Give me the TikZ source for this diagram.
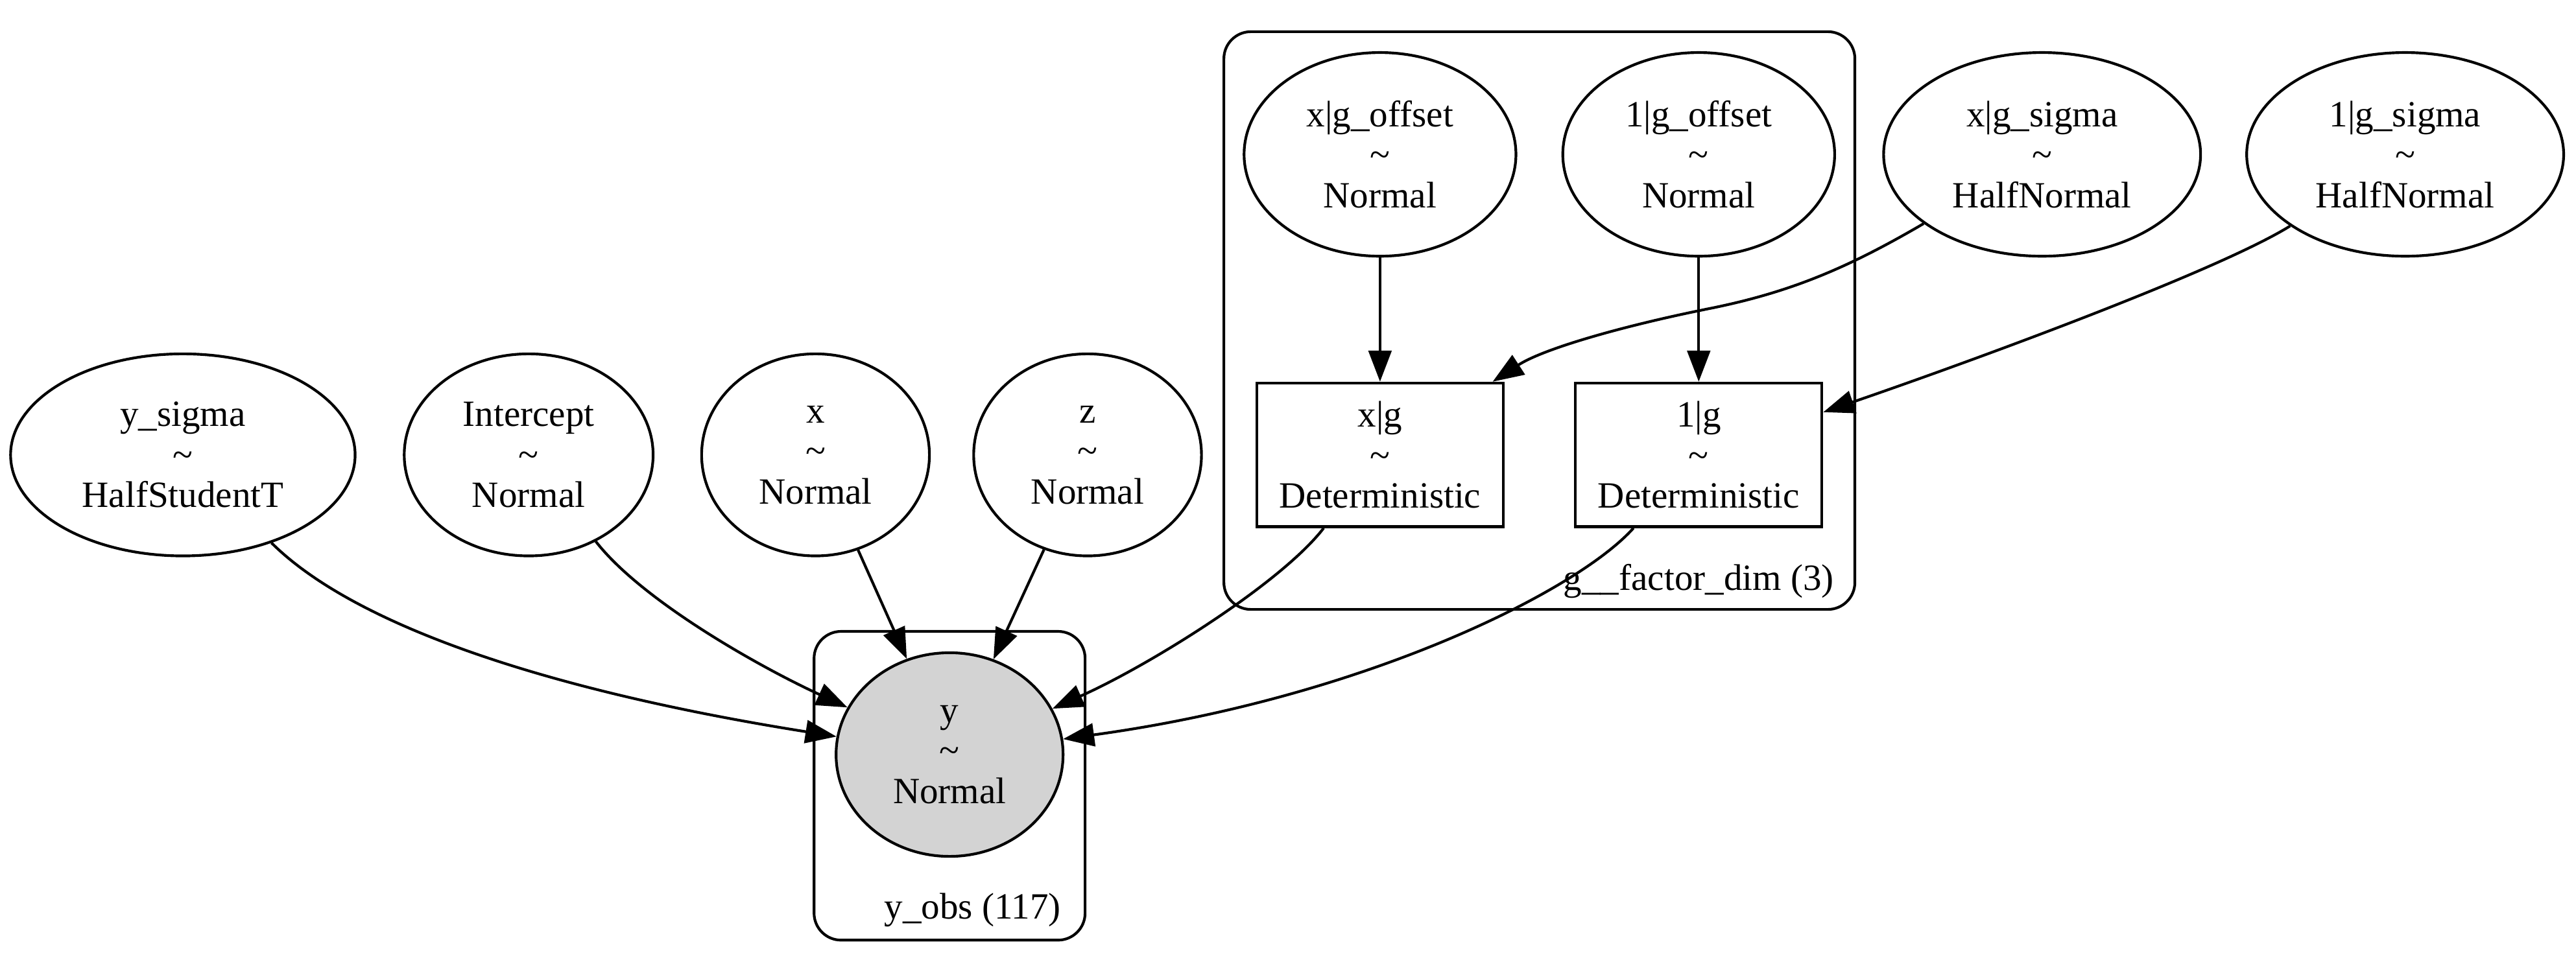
\documentclass[tikz,border=0pt]{standalone}
\usepackage{fontspec}
\setmainfont{Liberation Serif}
\usetikzlibrary{shapes.geometric,arrows.meta}
\begin{document}
\begin{tikzpicture}[x=0.60796pt, y=-0.60796pt,
  every node/.style={font=\fontsize{13.7}{15}\selectfont},
  rv/.style={draw, ellipse, line width=1pt, inner sep=0pt, align=center, minimum height=74.8pt},
  det/.style={draw, rectangle, line width=1pt, inner sep=0pt, align=center, minimum width=91.2pt, minimum height=53.2pt},
  plate/.style={draw, rounded corners=10pt, line width=1pt, inner sep=0pt},
  platelabel/.style={anchor=base, inner sep=0pt},
  edge/.style={line width=1pt, -{Triangle[length=11.5pt,width=8.5pt]}},
]
\useasboundingbox (0,0) rectangle (1568,592.2);

% plates
\node[plate, minimum width=100.3pt, minimum height=114.3pt] (yobs) at (578,478.5) {};
\node[platelabel] (yobslbl) at (592,559.4) {y\_obs (117)};
\node[plate, minimum width=233.5pt, minimum height=213.9pt] (gdim) at (937,195.2) {};
\node[platelabel] (gdimlbl) at (1034,359.5) {g\_\_factor\_dim (3)};

% random variables
\node[rv, minimum width=127.5pt] (ysig) at (111.3,277) {y\_sigma\\\textasciitilde\\HalfStudentT};
\node[rv, minimum width=92.1pt] (icpt) at (321.8,277) {Intercept\\\textasciitilde\\Normal};
\node[rv, minimum width=84.3pt] (xv) at (496.4,277) {x\\\textasciitilde\\Normal};
\node[rv, minimum width=84.3pt] (zv) at (662,277) {z\\\textasciitilde\\Normal};
\node[rv, minimum width=84pt, minimum height=75.4pt, fill={rgb,255:red,211;green,211;blue,211}] (yv) at (578,459.5) {y\\\textasciitilde\\Normal};

\node[rv, minimum width=100.6pt, minimum height=75.4pt] (xgoff) at (840,94) {x|g\_offset\\\textasciitilde\\Normal};
\node[rv, minimum width=100.6pt, minimum height=75.4pt] (ogoff) at (1034,94) {1|g\_offset\\\textasciitilde\\Normal};
\node[rv, minimum width=117.3pt, minimum height=75.4pt] (xgsig) at (1243,94) {x|g\_sigma\\\textasciitilde\\HalfNormal};
\node[rv, minimum width=117.3pt, minimum height=75.4pt] (ogsig) at (1464,94) {1|g\_sigma\\\textasciitilde\\HalfNormal};

% deterministics
\node[det] (xg) at (840,277) {x|g\\\textasciitilde\\Deterministic};
\node[det] (og) at (1034,277) {1|g\\\textasciitilde\\Deterministic};

% edges
\draw[edge] (ysig) .. controls (215,380) and (330,420) .. (yv);
\draw[edge] (icpt) .. controls (390,365) and (460,405) .. (yv);
\draw[edge] (xv) -- (yv);
\draw[edge] (zv) -- (yv);
\draw[edge] (xg) .. controls (780,355) and (700,405) .. (yv);
\draw[edge] (og) .. controls (960,360) and (830,425) .. (yv);
\draw[edge] (xgoff) -- (xg);
\draw[edge] (ogoff) -- (og);
\coordinate (xgmid) at (1040,188);
\draw[edge] (xgsig) .. controls (1125,163) and (1090,178) .. (xgmid) .. controls (990,198) and (940,212) .. (xg);
\draw[edge] (ogsig) .. controls (1350,165) and (1200,220) .. (og);
\end{tikzpicture}
\end{document}
